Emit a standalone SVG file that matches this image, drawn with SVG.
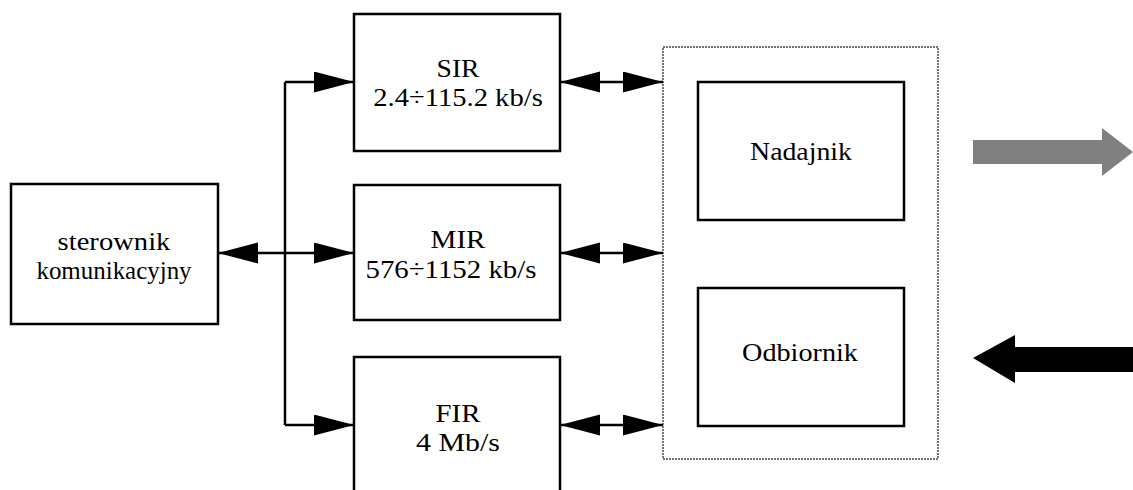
<svg xmlns="http://www.w3.org/2000/svg" width="1133" height="490" viewBox="0 0 1133 490">
<style>
.box{fill:#fff;stroke:#000;stroke-width:2.5}
.con{fill:none;stroke:#000;stroke-width:2.5}
.cont{fill:#fff;stroke:#777;stroke-width:2;stroke-dasharray:2 1}
.t{font-family:"Liberation Serif","Times New Roman",serif;font-size:26px;fill:#000;text-anchor:middle}
</style>
<defs>
<marker id="ah" markerUnits="userSpaceOnUse" markerWidth="41" markerHeight="22" refX="40" refY="10.5" orient="auto-start-reverse" viewBox="0 0 41 22">
<path d="M0,0 L40,10.5 L0,21 z" fill="#000"/>
</marker>
</defs>
<rect width="1133" height="490" fill="#fff"/>
<g id="container">
<rect class="cont" x="663" y="47" width="275" height="412"/>
</g>
<g id="sterownik">
<rect class="box" x="11" y="184" width="207" height="140"/>
<text class="t" transform="translate(114,0) scale(1.1,1)" x="0" y="250">sterownik</text>
<text class="t" transform="translate(114,0) scale(0.96,1)" x="0" y="279">komunikacyjny</text>
</g>
<g id="sir">
<rect class="box" x="354" y="14" width="206" height="137"/>
<text class="t" transform="translate(458,0) scale(1.06,1)" x="0" y="77">SIR</text>
<text class="t" transform="translate(458,0) scale(1.1,1)" x="0" y="106">2.4÷115.2 kb/s</text>
</g>
<g id="mir">
<rect class="box" x="354" y="185" width="206" height="135"/>
<text class="t" transform="translate(458,0) scale(1.12,1)" x="0" y="248">MIR</text>
<text class="t" transform="translate(451,0) scale(1.11,1)" x="0" y="278">576÷1152 kb/s</text>
</g>
<g id="fir">
<rect class="box" x="354" y="357" width="206" height="145"/>
<text class="t" transform="translate(458,0) scale(1.11,1)" x="0" y="422">FIR</text>
<text class="t" transform="translate(458,0) scale(1.15,1)" x="0" y="451">4 Mb/s</text>
</g>
<g id="nadajnik">
<rect class="box" x="698" y="82" width="206" height="138"/>
<text class="t" transform="translate(801,0) scale(1.07,1)" x="0" y="160">Nadajnik</text>
</g>
<g id="odbiornik">
<rect class="box" x="698" y="288" width="206" height="138"/>
<text class="t" transform="translate(800,0) scale(1.085,1)" x="0" y="361">Odbiornik</text>
</g>
<g id="connectors">
<path class="con" d="M285,82 V425"/>
<path class="con" d="M218,253 H354" marker-start="url(#ah)" marker-end="url(#ah)"/>
<path class="con" d="M285,82 H354" marker-end="url(#ah)"/>
<path class="con" d="M285,425 H354" marker-end="url(#ah)"/>
<path class="con" d="M560,82 H663" marker-start="url(#ah)" marker-end="url(#ah)"/>
<path class="con" d="M560,253 H663" marker-start="url(#ah)" marker-end="url(#ah)"/>
<path class="con" d="M560,425 H663" marker-start="url(#ah)" marker-end="url(#ah)"/>
</g>
<g id="tx-arrow">
<polygon points="973,140 1102,140 1102,128 1133,152 1102,176 1102,164 973,164" fill="#808080"/>
</g>
<g id="rx-arrow">
<polygon points="973,358 1015,335 1015,347 1133,347 1133,372 1015,372 1015,383" fill="#000"/>
</g>
</svg>
